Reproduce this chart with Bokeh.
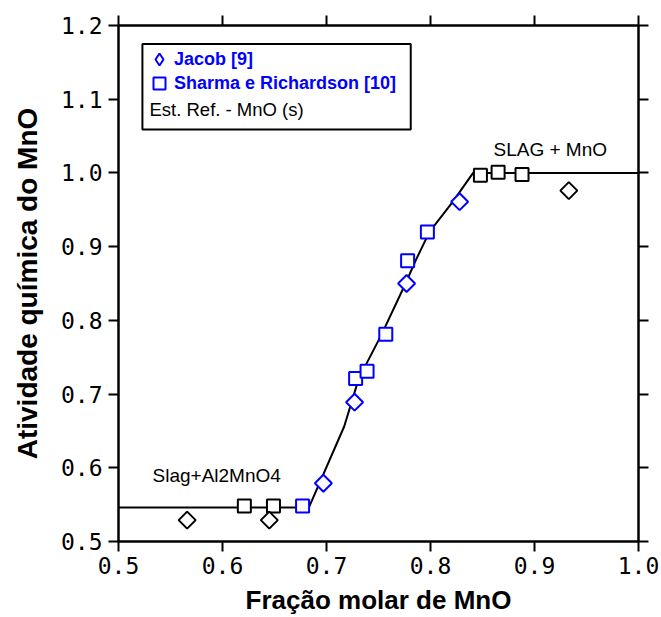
from bokeh.plotting import figure
from bokeh.models import LinearAxis, Range1d, Label, BoxAnnotation, Legend, LegendItem, FixedTicker
from bokeh.embed import file_html
from bokeh.resources import INLINE
import math

# ---- data ----
jacob_x = [0.697, 0.727, 0.777, 0.828]
jacob_y = [0.579, 0.689, 0.850, 0.961]

sharma_x = [0.677, 0.728, 0.739, 0.757, 0.778, 0.797]
sharma_y = [0.548, 0.721, 0.731, 0.781, 0.881, 0.920]

ref_sq_x = [0.621, 0.649, 0.848, 0.865, 0.888]
ref_sq_y = [0.548, 0.548, 0.997, 1.001, 0.998]

ref_dia_x = [0.566, 0.645, 0.933]
ref_dia_y = [0.529, 0.529, 0.976]

curve_x = [0.5, 0.683, 0.717, 0.731, 0.753, 0.776, 0.786, 0.799, 0.821, 0.841, 1.0]
curve_y = [0.546, 0.546, 0.656, 0.721, 0.781, 0.850, 0.882, 0.920, 0.960, 1.0, 1.0]

x_ticks = [0.5, 0.6, 0.7, 0.8, 0.9, 1.0]
x_tick_labels = ["0.5", "0.6", "0.7", "0.8", "0.9", "1.0"]
y_ticks = [0.5, 0.6, 0.7, 0.8, 0.9, 1.0, 1.1, 1.2]
y_tick_labels = ["0.5", "0.6", "0.7", "0.8", "0.9", "1.0", "1.1", "1.2"]

legend_labels = ["Jacob [9]", "Sharma e Richardson [10]", "Est. Ref. - MnO (s)"]
x_title = "Fração molar de MnO"
y_title = "Atividade química do MnO"

BLUE = "#0000ff"
SANS = "Liberation Sans"
MONO = "DejaVu Sans Mono"

p = figure(width=661, height=617, output_backend="svg", toolbar_location=None,
           x_range=Range1d(0.5, 1.0), y_range=Range1d(0.5, 1.2),
           x_axis_location=None, y_axis_location=None,
           min_border_left=118, min_border_right=23, min_border_top=25, min_border_bottom=76)
p.frame_width = 520
p.frame_height = 516
p.grid.visible = False
p.outline_line_color = "black"
p.outline_line_width = 2
p.background_fill_color = "white"
p.border_fill_color = "white"


def style_axis(ax, ticks, labels, show_labels):
    ax.ticker = FixedTicker(ticks=ticks)
    ax.major_label_overrides = {t: l for t, l in zip(ticks, labels)}
    ax.axis_line_width = 2
    ax.axis_line_color = "black"
    ax.major_tick_line_width = 2
    ax.major_tick_out = 10
    ax.major_tick_in = 0
    ax.minor_tick_line_color = None
    if show_labels:
        ax.major_label_text_font = MONO
        ax.major_label_text_font_size = "23px"
        ax.major_label_text_color = "black"
    else:
        ax.major_label_text_font_size = "0px"
        ax.major_label_text_color = None


xb = LinearAxis(axis_label=x_title)
style_axis(xb, x_ticks, x_tick_labels, True)
xb.major_label_standoff = 5
xb.axis_label_standoff = 8
xb.axis_label_text_font = SANS
xb.axis_label_text_font_style = "bold"
xb.axis_label_text_font_size = "26px"
xb.axis_label_text_color = "black"
p.add_layout(xb, "below")

yl = LinearAxis(axis_label=y_title)
style_axis(yl, y_ticks, y_tick_labels, True)
yl.major_label_standoff = 6
yl.axis_label_standoff = 15
yl.axis_label_text_font = SANS
yl.axis_label_text_font_style = "bold"
yl.axis_label_text_font_size = "28px"
yl.axis_label_text_color = "black"
p.add_layout(yl, "left")

xt = LinearAxis()
style_axis(xt, x_ticks, x_tick_labels, False)
p.add_layout(xt, "above")

yr = LinearAxis()
style_axis(yr, y_ticks, y_tick_labels, False)
p.add_layout(yr, "right")

# curve
p.line(curve_x, curve_y, line_color="black", line_width=2)

ang = math.pi / 4
# plain diamond under the Jacob points: only used as the legend symbol
# (legend symbols do not follow a glyph's angle); fully hidden by the rotated squares
r_jacob_leg = p.scatter(jacob_x, jacob_y, marker="diamond", size=10, fill_color="white",
                        line_color=BLUE, line_width=2)

r_ref_sq = p.scatter(ref_sq_x, ref_sq_y, marker="square", size=13, fill_color="white",
                     line_color="black", line_width=2)
r_ref_dia = p.scatter(ref_dia_x, ref_dia_y, marker="square", size=12, angle=ang, fill_color="white",
                      line_color="black", line_width=2)
r_jacob = p.scatter(jacob_x, jacob_y, marker="square", size=12, angle=ang, fill_color="white",
                    line_color=BLUE, line_width=2)
r_sharma = p.scatter(sharma_x, sharma_y, marker="square", size=13, fill_color="white",
                     line_color=BLUE, line_width=2)

# legend box
box = BoxAnnotation(left=0.523, right=0.781, bottom=1.059, top=1.175,
                    fill_color="white", fill_alpha=1.0, line_color="black", line_alpha=1.0,
                    line_width=2, level="annotation")
p.add_layout(box)

leg_kw = dict(padding=0, spacing=0, glyph_width=30, glyph_height=30,
              label_height=20, label_standoff=0, border_line_color=None,
              background_fill_alpha=0.0, label_text_color=BLUE,
              label_text_font=SANS, label_text_font_style="bold", label_text_font_size="18px")
leg1 = Legend(items=[LegendItem(label=legend_labels[0], renderers=[r_jacob_leg])],
              location=(26, 467), **leg_kw)
leg2 = Legend(items=[LegendItem(label=legend_labels[1], renderers=[r_sharma])],
              location=(26, 443), **leg_kw)
p.add_layout(leg1, "center")
p.add_layout(leg2, "center")

p.add_layout(Label(x=0.5298, y=1.0864, text=legend_labels[2], text_font=SANS,
                   text_font_size="18.5px", text_color="black", text_baseline="middle",
                   text_align="left"))

p.add_layout(Label(x=0.8606, y=1.032, text="SLAG + MnO", text_font=SANS,
                   text_font_size="19px", text_color="black", text_baseline="middle",
                   text_align="left"))
p.add_layout(Label(x=0.5327, y=0.590, text="Slag+Al2MnO4", text_font=SANS,
                   text_font_size="19px", text_color="black", text_baseline="middle",
                   text_align="left"))

open("out.html", "w").write(file_html(p, INLINE))
